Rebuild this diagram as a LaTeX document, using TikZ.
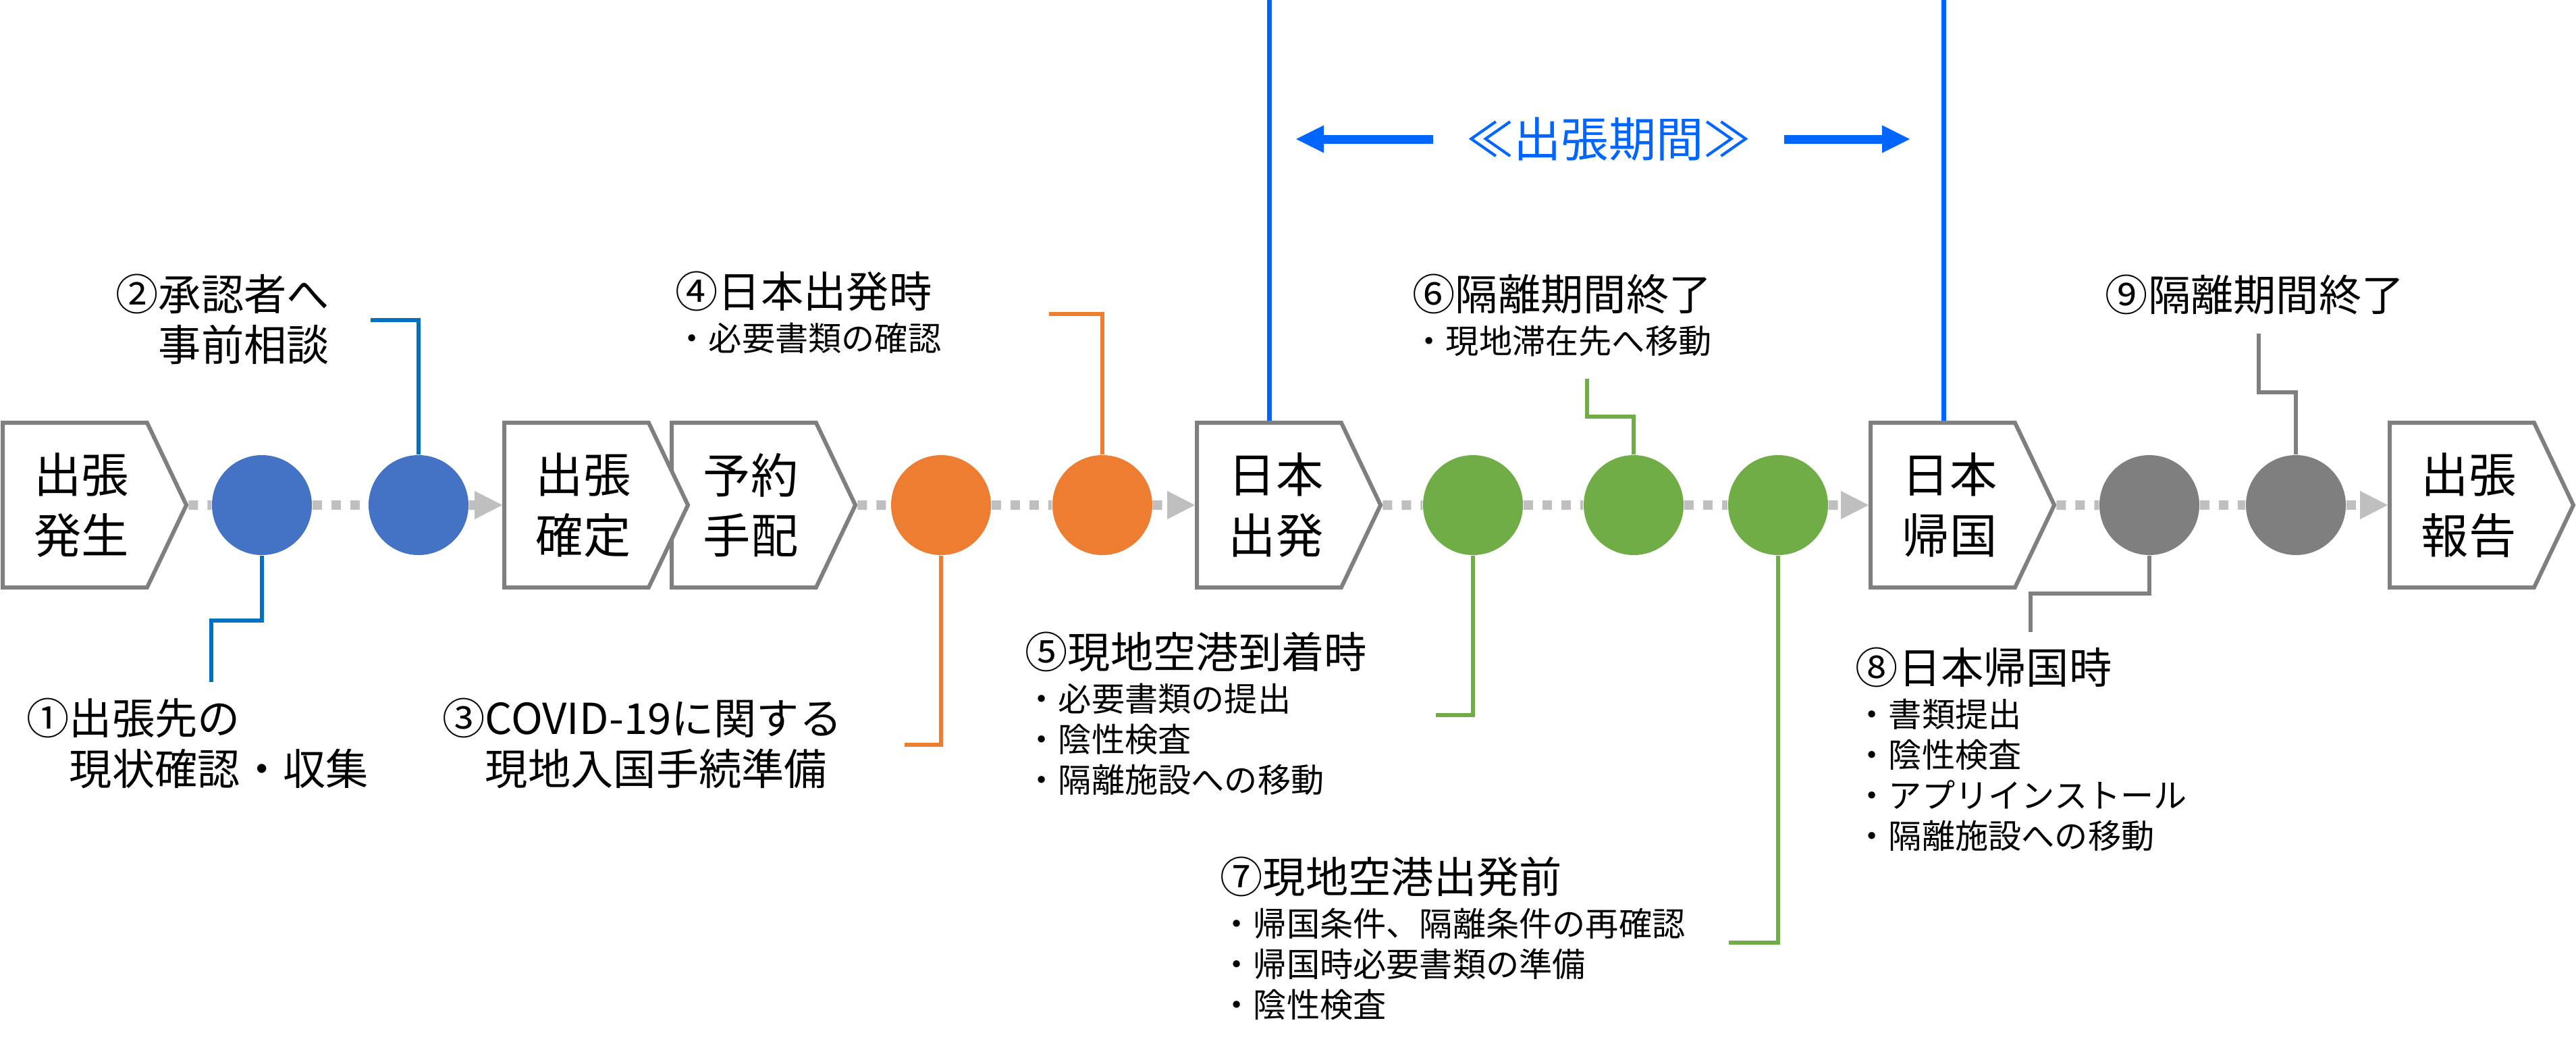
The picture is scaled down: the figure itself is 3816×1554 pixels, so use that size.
\documentclass[tikz,border=0pt]{standalone}
\usepackage{fontspec}
\setmainfont{Noto Sans CJK JP}
\usepackage{tikz}
\usetikzlibrary{positioning,arrows.meta,shapes.symbols}
\usepackage{xcolor}
\definecolor{frame}{HTML}{7F7F7F}
\definecolor{flowc}{HTML}{BFBFBF}
\definecolor{prep}{HTML}{4472C4}
\definecolor{prepline}{HTML}{0070C0}
\definecolor{depart}{HTML}{ED7D31}
\definecolor{stay}{HTML}{70AD47}
\definecolor{back}{HTML}{7F7F7F}
\definecolor{period}{HTML}{0066FF}
\newcommand{\boxfont}{\fontsize{20}{25.5}\selectfont}
\newcommand{\headfont}{\fontsize{18}{21.3}\selectfont}
\newcommand{\itemfont}{\fontsize{14}{17.07}\selectfont}
\newcommand{\periodfont}{\fontsize{20}{24}\selectfont}
\newcommand{\hd}[1]{{\headfont #1}\\[1.3pt]}
\newcommand{\stg}[2]{\hspace*{2mm}#1\\\hspace*{2mm}#2}
\tikzset{
  stagebox/.style={signal, signal to=east, signal pointer angle=129,
              draw=frame, fill=white, line width=0.6mm, inner sep=0pt,
              minimum width=27.2mm, minimum height=24.4mm, align=center,
              font=\boxfont},
  milestone/.style={circle, minimum size=14.8mm, inner sep=0pt},
  flow/.style={flowc, line width=1.4mm, dash pattern=on 1.4mm off 1.4mm},
  flowto/.style={flow, -{Triangle[length=4.1mm, width=4.2mm, line width=0pt]}},
  lead/.style={line width=0.6mm},
  note/.style={anchor=north west, inner sep=0pt, align=left, font=\headfont},
  checklist/.style={anchor=north west, inner sep=0pt, align=left, font=\itemfont},
  bound/.style={period, line width=0.7mm},
  spanarrow/.style={period, line width=1.3mm,
              -{Triangle[length=4.1mm, width=4.1mm, line width=0pt]}},
}

\begin{document}
\begin{tikzpicture}[x=0.1mm, y=-0.1mm]
\useasboundingbox (0,0) rectangle (3816,1554);

\node[stagebox] (s1) at (111,748) {\stg{出張}{発生}};
\node[stagebox] (s3) at (1102,748) {\stg{予約}{手配}};
\node[stagebox] (s2) at (854,748) {\stg{出張}{確定}};
\node[stagebox] (s4) at (1880,748) {\stg{日本}{出発}};
\node[stagebox] (s5) at (2878,748) {\stg{日本}{帰国}};
\node[stagebox] (s6) at (3647,748) {\stg{出張}{報告}};

\node[milestone, fill=prep] (c1) at (388,748) {};
\node[milestone, fill=prep] (c2) at (620,748) {};
\node[milestone, fill=depart] (c3) at (1394,748) {};
\node[milestone, fill=depart] (c4) at (1633,748) {};
\node[milestone, fill=stay] (c5) at (2182,748) {};
\node[milestone, fill=stay] (c6) at (2420,748) {};
\node[milestone, fill=stay] (c7) at (2634,748) {};
\node[milestone, fill=back] (c8) at (3184,748) {};
\node[milestone, fill=back] (c9) at (3401,748) {};

\draw[flow] (s1) -- (c1);
\draw[flow] (c1) -- (c2);
\draw[flowto] (c2) -- (s2);
\draw[flow] (s3) -- (c3);
\draw[flow] (c3) -- (c4);
\draw[flowto] (c4) -- (s4);
\draw[flow] (s4) -- (c5);
\draw[flow] (c5) -- (c6);
\draw[flow] (c6) -- (c7);
\draw[flowto] (c7) -- (s5);
\draw[flow] (s5) -- (c8);
\draw[flow] (c8) -- (c9);
\draw[flowto] (c9) -- (s6);

\node[note] (n1) at (39,1033) {①出張先の\\\hspace{1em}現状確認・収集};
\node[note] (n2) at (171,405) {②承認者へ\\\hspace{1em}事前相談};
\node[note] (n3) at (655,1033) {③COVID-19に関する\\\hspace{1em}現地入国手続準備};
\node[checklist] (n4) at (1000,401) {\hd{④日本出発時}・必要書類の確認};
\node[checklist] (n5) at (1518,935) {\hd{⑤現地空港到着時}・必要書類の提出\\・陰性検査\\・隔離施設への移動};
\node[checklist] (n6) at (2092,405) {\hd{⑥隔離期間終了}・現地滞在先へ移動};
\node[checklist] (n7) at (1807,1268) {\hd{⑦現地空港出発前}・帰国条件、隔離条件の再確認\\・帰国時必要書類の準備\\・陰性検査};
\node[checklist] (n8) at (2748,958) {\hd{⑧日本帰国時}・書類提出\\・陰性検査\\・アプリインストール\\・隔離施設への移動};
\node[note] (n9) at (3118,406) {⑨隔離期間終了};

\coordinate (e1) at (313,1010);
\coordinate (e2) at (549,474);
\coordinate (e3) at (1340,1103);
\coordinate (e4) at (1554,465);
\coordinate (e5) at (2127,1059);
\coordinate (e6) at (2351,561);
\coordinate (e7) at (2561,1396);
\coordinate (e8) at (3008,936);
\coordinate (e9) at (3346,494);
\draw[lead, prepline] (c1.south) -- ++(0,96) -| (e1);
\draw[lead, prepline] (c2.north) |- (e2);
\draw[lead, depart] (c3.south) |- (e3);
\draw[lead, depart] (c4.north) |- (e4);
\draw[lead, stay] (c5.south) |- (e5);
\draw[lead, stay] (c6.north) -- ++(0,-56) -| (e6);
\draw[lead, stay] (c7.south) |- (e7);
\draw[lead, back] (c8.south) -- ++(0,56) -| (e8);
\draw[lead, back] (c9.north) -- ++(0,-92) -| (e9);

\node[font=\periodfont, text=period, inner xsep=4.8mm] (per) at (2383,206) {≪出張期間≫};
\coordinate (pl) at (1920,206);
\coordinate (pr) at (2829,206);
\draw[spanarrow] (per) -- (pl);
\draw[spanarrow] (per) -- (pr);
\coordinate (t1) at (1880,0);
\coordinate (t2) at (2879,0);
\draw[bound] (t1) -- (t1 |- s4.north);
\draw[bound] (t2) -- (t2 |- s5.north);
\end{tikzpicture}
\end{document}
